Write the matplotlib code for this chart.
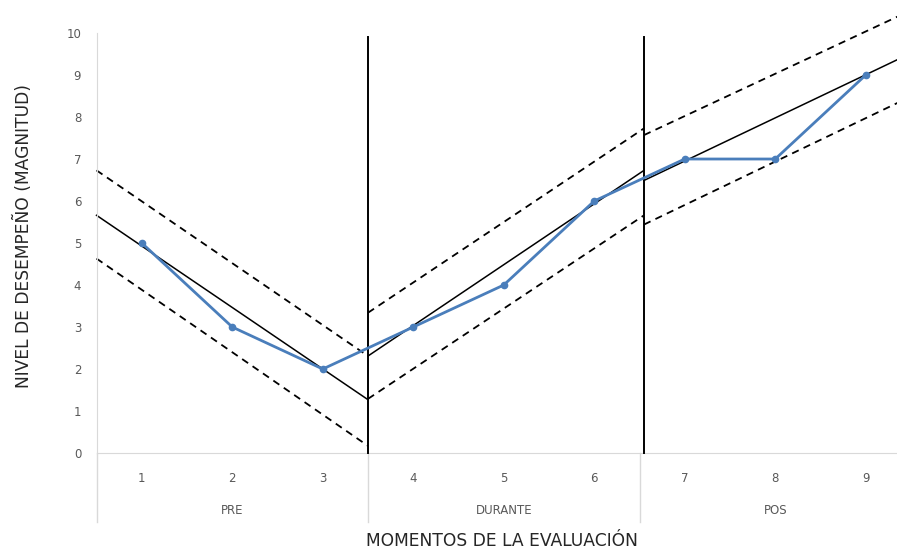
import matplotlib
matplotlib.use("Agg")
import matplotlib.pyplot as plt
import matplotlib.transforms as mtransforms

# ---------------------------
# Data
# ---------------------------
categories = [1, 2, 3, 4, 5, 6, 7, 8, 9]
values = [5, 3, 2, 3, 4, 6, 7, 7, 9]
groups = ["PRE", "DURANTE", "POS"]
group_bounds = [(0.5, 3.5), (3.5, 6.5), (6.5, 9.5)]

# hand drawn trend bands per phase: (start, end) values
phase_x = [(0.5, 3.5), (3.5, 6.55), (6.55, 9.5)]
trend_mid = [(5.66, 1.27), (2.31, 6.73), (6.49, 9.52)]
trend_upper = [(6.73, 2.31), (3.34, 7.73), (7.57, 10.54)]
trend_lower = [(4.63, 0.17), (1.29, 5.66), (5.44, 8.49)]
dividers = [3.5, 6.55]

BLUE = "#4a7ebb"
GRAY_TXT = "#595959"
GRID = "#d9d9d9"

fig = plt.figure(figsize=(8.97, 5.52), dpi=100)
ax = fig.add_axes([0.1076, 0.1793, 0.908, 0.7609])

ax.set_xlim(0.5, 9.5)
ax.set_ylim(0, 10)

# trend lines
for xs, m, u, lo in zip(phase_x, trend_mid, trend_upper, trend_lower):
    ax.plot(xs, m, color="black", lw=1.1, clip_on=False, zorder=2)
    ax.plot(xs, u, color="black", lw=1.3, ls=(0, (4, 3)), clip_on=False, zorder=2)
    ax.plot(xs, lo, color="black", lw=1.3, ls=(0, (4, 3)), clip_on=False, zorder=2)

# phase dividers
for d in dividers:
    ax.plot([d, d], [0, 9.9], color="black", lw=1.4, clip_on=False, zorder=3)

# series
ax.plot(categories, values, color=BLUE, lw=2.0, marker="o", ms=4.5, zorder=4)

# axes styling
for s in ["top", "right"]:
    ax.spines[s].set_visible(False)
ax.spines["left"].set_color(GRID)
ax.spines["bottom"].set_color(GRID)
ax.set_yticks(range(0, 11))
ax.tick_params(axis="y", length=0, pad=11, labelsize=8.5, labelcolor=GRAY_TXT)
ax.set_xticks(categories)
ax.set_xticklabels([str(c) for c in categories])
ax.tick_params(axis="x", length=0, pad=14, labelsize=8.5, labelcolor=GRAY_TXT)

# category table under the axis
trans = mtransforms.blended_transform_factory(ax.transData, ax.transAxes)
for (a, b), g in zip(group_bounds, groups):
    ax.plot([a, a], [0, -0.164], color=GRID, lw=1, transform=trans, clip_on=False)
    ax.text((a + b) / 2, -0.136, g, transform=trans, ha="center", va="center",
            fontsize=8.5, color=GRAY_TXT)

fig.text(23 / 897, 1 - 236 / 552, "NIVEL DE DESEMPEÑO (MAGNITUD)", rotation=90,
         ha="center", va="center", fontsize=12.3, color="#262626")
fig.text(502 / 897, 0.003, "MOMENTOS DE LA EVALUACIÓN", ha="center", va="bottom",
         fontsize=12.3, color="#262626")

fig.savefig("out.png", dpi=100)
